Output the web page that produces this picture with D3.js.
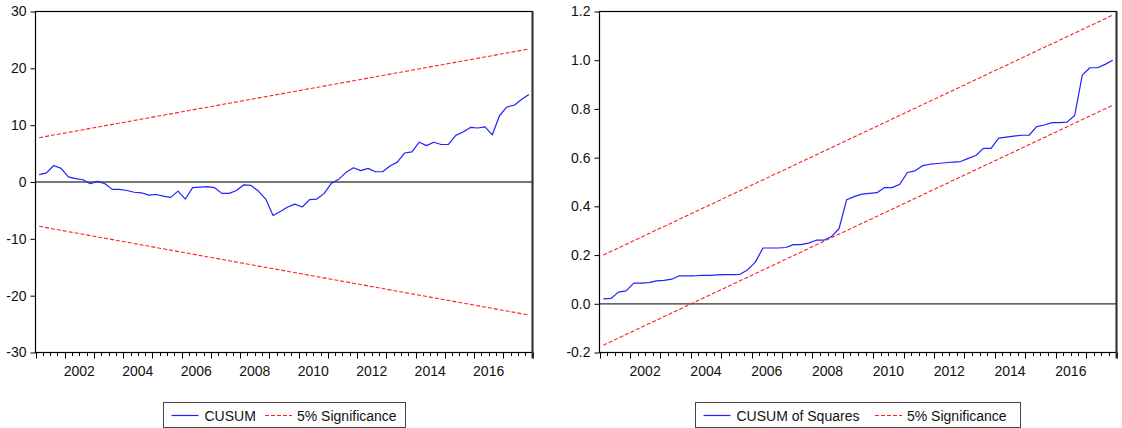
<!DOCTYPE html>
<html><head><meta charset="utf-8">
<script src="https://cdn.jsdelivr.net/npm/d3@7"></script>
<style>
html,body{margin:0;padding:0;background:#fff;}
svg text{font-family:"Liberation Sans",Arial,sans-serif;font-size:14px;fill:#111;}
</style></head>
<body><svg id="c" width="1122" height="428"></svg>
<script>
// ---- data ----
const startYear = 2001; // first quarter: 2001Q1, 68 quarters to 2017Q4
const yearLabels = ["2002","2004","2006","2008","2010","2012","2014","2016"];
const cusum = [1.3,1.6,2.9,2.4,0.9,0.6,0.4,-0.3,0.1,-0.3,-1.3,-1.3,-1.5,-1.8,-1.9,-2.3,-2.2,-2.5,-2.7,-1.6,
  -3.0,-1.0,-0.9,-0.8,-1.0,-2.0,-2.0,-1.5,-0.5,-0.6,-1.6,-3.0,-5.9,-5.2,-4.4,-3.9,-4.4,-3.1,-3.0,-2.0,
  -0.2,0.5,1.7,2.5,2.0,2.4,1.8,1.8,2.8,3.5,5.1,5.3,7.0,6.4,7.0,6.6,6.6,8.2,8.8,9.6,
  9.5,9.7,8.3,11.7,13.2,13.5,14.5,15.4];
const cusumUpper = [7.8, 23.4];
const cusumLower = [-7.8, -23.4];
const cusumsq = [0.02,0.022,0.048,0.053,0.085,0.085,0.087,0.094,0.096,0.101,0.115,0.115,0.115,0.117,0.117,0.119,0.120,0.120,0.121,0.14,
  0.171,0.229,0.229,0.229,0.231,0.243,0.243,0.249,0.261,0.261,0.276,0.308,0.427,0.44,0.450,0.453,0.456,0.477,0.477,0.491,
  0.539,0.546,0.567,0.573,0.576,0.579,0.582,0.584,0.597,0.609,0.638,0.638,0.680,0.684,0.688,0.692,0.692,0.727,0.734,0.744,
  0.744,0.746,0.773,0.939,0.969,0.969,0.983,1.0];
const cusumsqUpper = [0.2, 1.185];
const cusumsqLower = [-0.17, 0.815];
const leftTicks = [-30,-20,-10,0,10,20,30];
const rightTicks = [-0.2,0.0,0.2,0.4,0.6,0.8,1.0,1.2];

const svg = d3.select("#c");
const nQ = cusum.length;
const hy = f => (d => f(d).replace("\u2212","-"));

function panel(cfg){
  const g = svg.append("g");
  const x = d3.scaleLinear().domain([0, nQ]).range([cfg.x0, cfg.x1]);
  const y = d3.scaleLinear().domain(cfg.ydom).range([cfg.y1, cfg.y0]);
  // y axis
  const ya = d3.axisLeft(y).tickValues(cfg.yticks).tickSize(5).tickPadding(4).tickFormat(cfg.fmt);
  const yg = g.append("g").attr("transform",`translate(${cfg.x0},0)`).call(ya);
  yg.select(".domain").remove();
  yg.selectAll(".tick line").attr("stroke","#000");
  yg.selectAll("text").style("font-size","14px").attr("fill","#111");
  // x ticks
  const xt = d3.range(0, nQ+1);
  g.selectAll("line.xt").data(xt).enter().append("line")
    .attr("x1", d=>Math.round(x(d))+0.5).attr("x2", d=>Math.round(x(d))+0.5)
    .attr("y1", cfg.y1).attr("y2", d=> d%4===0 ? cfg.y1+6 : cfg.y1+3.5)
    .attr("stroke","#000").attr("stroke-width",1);
  g.selectAll("text.xl").data(yearLabels).enter().append("text")
    .attr("x", d=> x((+d - startYear)*4 + 2)).attr("y", cfg.y1+23.5)
    .attr("text-anchor","middle").text(d=>d);
  // zero line
  g.append("line").attr("x1",cfg.x0).attr("x2",cfg.x1).attr("y1",y(0)).attr("y2",y(0))
    .attr("stroke",cfg.zeroColor).attr("stroke-width",cfg.zeroW);
  // bounds
  const bl = d3.line().x(d=>x(d[0])).y(d=>y(d[1]));
  [cfg.upper, cfg.lower].forEach(b=>{
    g.append("path").attr("d", bl([[0.5,b[0]],[nQ-0.5,b[1]]]))
      .attr("fill","none").attr("stroke","#ff2020").attr("stroke-width",1.1).attr("stroke-dasharray","4,2");
  });
  // series
  const line = d3.line().x((d,i)=>x(i+0.5)).y(d=>y(d));
  g.append("path").attr("d", line(cfg.data)).attr("fill","none")
    .attr("stroke","#2020ff").attr("stroke-width",1.2).attr("stroke-linejoin","round");
  // frame
  g.append("rect").attr("x",cfg.x0).attr("y",cfg.y0).attr("width",cfg.x1-cfg.x0).attr("height",cfg.y1-cfg.y0)
    .attr("fill","none").attr("stroke","#000").attr("stroke-width",1.2);
  g.append("line").attr("x1",cfg.x1).attr("x2",cfg.x1).attr("y1",cfg.y0).attr("y2",cfg.y1+6)
    .attr("stroke","#333").attr("stroke-width",2);
  // legend
  const L = cfg.legend;
  g.append("rect").attr("x",L.x).attr("y",402.5).attr("width",L.w).attr("height",25)
    .attr("fill","#fff").attr("stroke","#444").attr("stroke-width",1);
  g.append("line").attr("x1",L.x+8).attr("x2",L.x+35).attr("y1",415.5).attr("y2",415.5)
    .attr("stroke","#2020ff").attr("stroke-width",1.2);
  g.append("text").attr("x",L.x+41).attr("y",420.5).text(L.name);
  g.append("line").attr("x1",L.x2).attr("x2",L.x2+27).attr("y1",415.5).attr("y2",415.5)
    .attr("stroke","#ff2020").attr("stroke-width",1.1).attr("stroke-dasharray","4,2");
  g.append("text").attr("x",L.x2+32).attr("y",420.5).text("5% Significance");
}

panel({x0:35.5, x1:532.5, y0:11.5, y1:352.5, ydom:[-30,30], yticks:leftTicks, fmt:hy(d3.format("d")),
  data:cusum, upper:cusumUpper, lower:cusumLower, zeroColor:"#777", zeroW:2,
  legend:{x:163.5, w:242, name:"CUSUM", x2:265}});
panel({x0:599.5, x1:1116.5, y0:11.5, y1:352.5, ydom:[-0.2,1.2], yticks:rightTicks, fmt:hy(d3.format(".1f")),
  data:cusumsq, upper:cusumsqUpper, lower:cusumsqLower, zeroColor:"#333", zeroW:1.2,
  legend:{x:695.5, w:325, name:"CUSUM of Squares", x2:875}});
</script></body></html>
